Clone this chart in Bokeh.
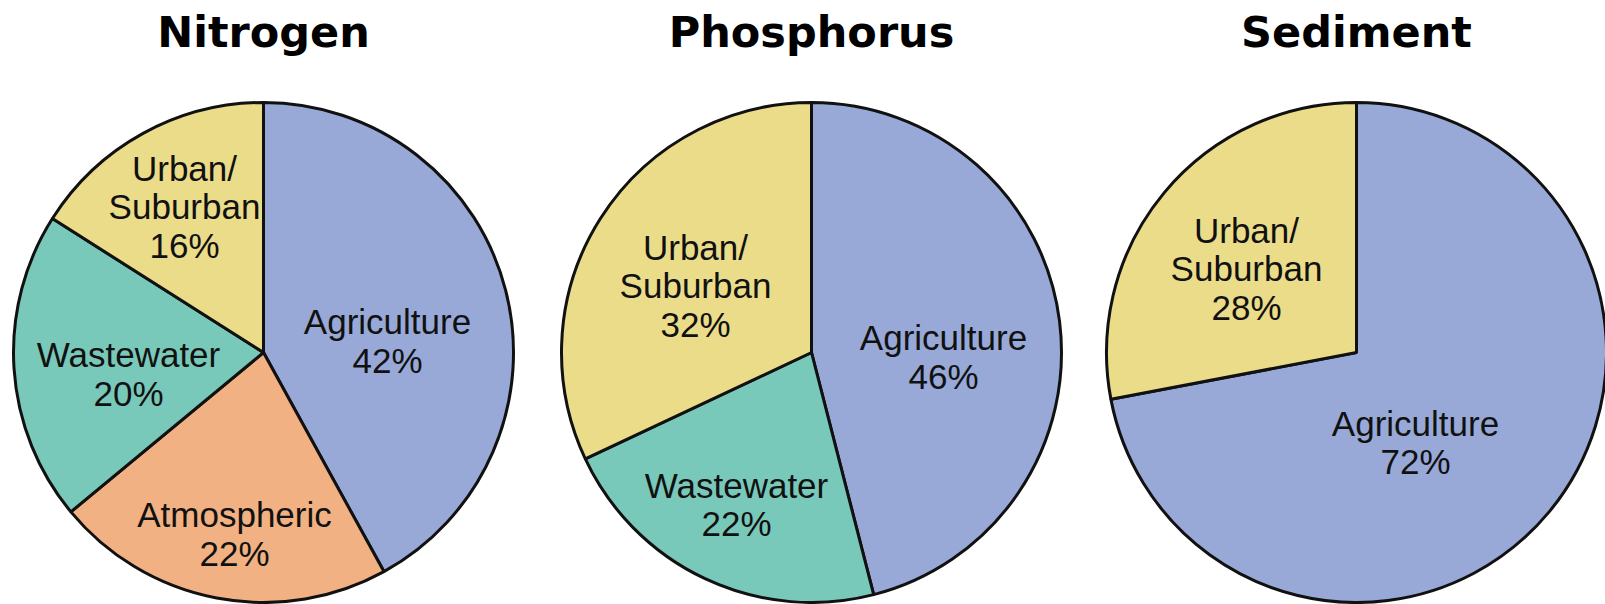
import math
from bokeh.plotting import figure
from bokeh.models import Range1d
from bokeh.core.properties import value
from bokeh.embed import file_html
from bokeh.resources import INLINE

# ---- data ----
titles = ["Nitrogen", "Phosphorus", "Sediment"]
nitrogen_labels = ["Agriculture", "Atmospheric", "Wastewater", "Urban/\nSuburban"]
nitrogen_values = [42, 22, 20, 16]
phosphorus_labels = ["Agriculture", "Wastewater", "Urban/\nSuburban"]
phosphorus_values = [46, 22, 32]
sediment_labels = ["Agriculture", "Urban/\nSuburban"]
sediment_values = [72, 28]

# ---- styling / layout ----
colors = {
    "Agriculture": "#98A9D8",
    "Atmospheric": "#F1B183",
    "Wastewater": "#79C9BA",
    "Urban/\nSuburban": "#EBDC8A",
}
W, H = 1605, 604
R = 250
centers_x = [263, 811, 1356]
center_y = 252
title_y = 573
# label block centres, as fractions of the radius (dx, dy) from pie centre
label_offsets = [
    [(0.496, 0.046), (-0.116, -0.726), (-0.54, -0.086), (-0.316, 0.584)],
    [(0.528, -0.018), (-0.30, -0.608), (-0.464, 0.268)],
    [(0.236, -0.36), (-0.44, 0.336)],
]
LABEL_FONT = "Liberation Sans"
LABEL_SIZE = 35
LINE_H = 38.5

p = figure(width=W, height=H, output_backend="svg", toolbar_location=None,
           x_range=Range1d(0, W), y_range=Range1d(0, H),
           min_border=0)
p.axis.visible = False
p.grid.visible = False
p.outline_line_color = None
p.background_fill_color = "white"
p.border_fill_color = "white"

series = [
    (nitrogen_labels, nitrogen_values),
    (phosphorus_labels, phosphorus_values),
    (sediment_labels, sediment_values),
]

for k, (labels, vals) in enumerate(series):
    cx = centers_x[k]
    total = float(sum(vals))
    cum = 0.0
    starts, ends, cols = [], [], []
    for lab, v in zip(labels, vals):
        c0 = cum / total
        c1 = (cum + v) / total
        cum += v
        starts.append(math.pi / 2 - 2 * math.pi * c1)
        ends.append(math.pi / 2 - 2 * math.pi * c0)
        cols.append(colors[lab])
    n = len(vals)
    p.wedge(x=[cx] * n, y=[center_y] * n, radius=R,
            start_angle=starts, end_angle=ends, direction="anticlock",
            fill_color=cols, line_color="#111111", line_width=3)

    # labels
    tx, ty, tt = [], [], []
    for (lab, v), (dx, dy) in zip(zip(labels, vals), label_offsets[k]):
        lines = lab.split("\n") + [f"{v}%"]
        bx = cx + dx * R
        by = center_y + dy * R
        m = len(lines)
        for i, line in enumerate(lines):
            tx.append(bx)
            ty.append(by + (m - 1) / 2 * LINE_H - i * LINE_H)
            tt.append(line)
    p.text(x=tx, y=ty, text=tt, text_align="center", text_baseline="middle",
           text_font=value(LABEL_FONT), text_font_size=f"{LABEL_SIZE}px",
           text_color="#111111")

    p.text(x=[cx], y=[title_y], text=[titles[k]], text_align="center",
           text_baseline="alphabetic", text_font=value("DejaVu Sans"),
           text_font_style="bold", text_font_size="43px", text_color="#000000")

open("out.html", "w").write(file_html(p, INLINE))
